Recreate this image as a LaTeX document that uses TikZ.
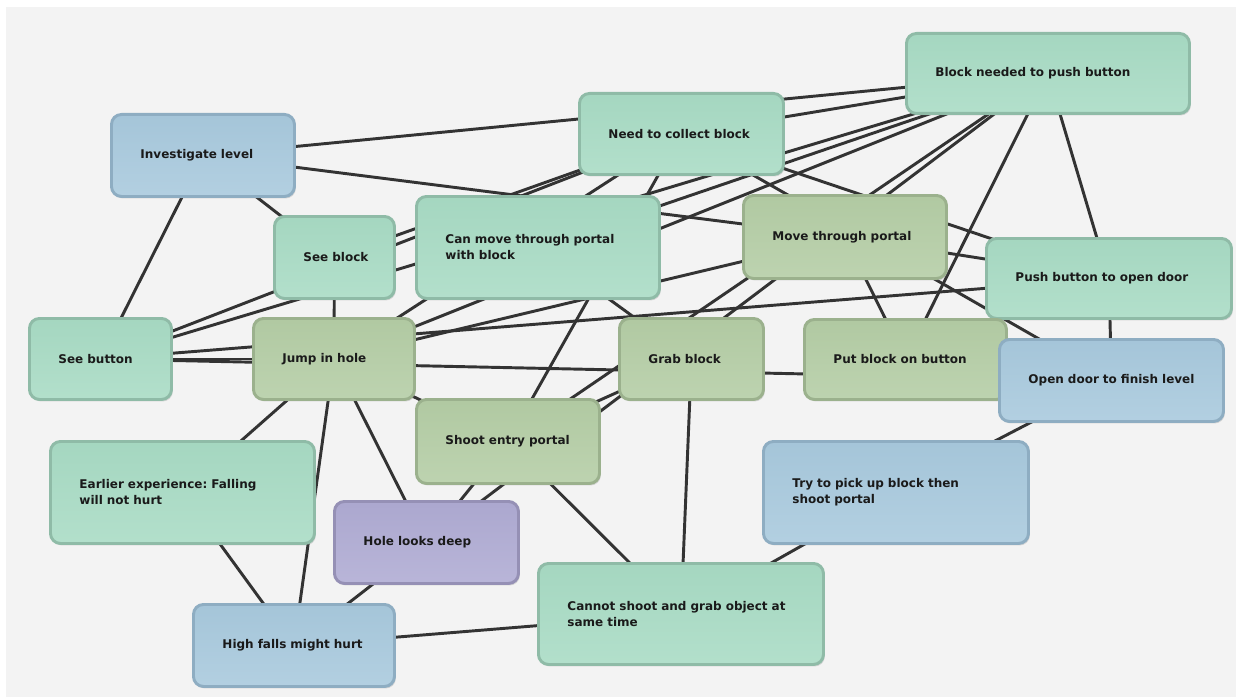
\documentclass[tikz,border=0pt]{standalone}
\usepackage{fontspec}
\setmainfont{DejaVu Sans}
\usetikzlibrary{shadows}
\pgfdeclarelayer{paper}
\pgfdeclarelayer{edges}
\pgfsetlayers{paper,edges,main}
\definecolor{tealF}{HTML}{A8DBC4}
\definecolor{tealD}{HTML}{8FBBA7}
\definecolor{oliveF}{HTML}{B4CDA5}
\definecolor{oliveD}{HTML}{9BB18D}
\definecolor{blueF}{HTML}{A8C9DD}
\definecolor{blueD}{HTML}{8EADC2}
\definecolor{purpF}{HTML}{AFABD3}
\definecolor{purpD}{HTML}{9590B5}
\definecolor{edgeC}{HTML}{333333}
\definecolor{paperC}{HTML}{F3F3F3}
\definecolor{textC}{HTML}{1A1A1A}
\frenchspacing
\begin{document}
\begin{tikzpicture}[x=0.75pt,y=-0.75pt,
  box/.style={rounded corners=7.5pt, line width=2.2pt, anchor=north west,
    inner xsep=21.75pt, inner ysep=0pt, align=left, text=textC,
    font=\bfseries\fontsize{9}{12}\selectfont,
    drop shadow={shadow xshift=1pt, shadow yshift=-1.5pt, opacity=0.25}},
  tealbox/.style={box, top color=tealF!98!black, bottom color=tealF!88!white, draw=tealD},
  olivebox/.style={box, top color=oliveF!98!black, bottom color=oliveF!88!white, draw=oliveD},
  bluebox/.style={box, top color=blueF!98!black, bottom color=blueF!88!white, draw=blueD},
  purpbox/.style={box, top color=purpF!98!black, bottom color=purpF!88!white, draw=purpD},
  link/.style={draw=edgeC, line width=2.2pt}
]
\useasboundingbox (0,0) rectangle (1239,699);
\begin{pgfonlayer}{paper}
\fill[white] (0,0) rectangle (1239,699);
\fill[paperC] (6,7) rectangle (1236,697);
\end{pgfonlayer}

% nodes
\node[bluebox, minimum width=137.25pt, minimum height=61.5pt, text width=93.75pt] (IL) at (110,113) {\mbox{Investigate level}};
\node[tealbox, minimum width=153pt, minimum height=60.75pt, text width=109.5pt] (NCB) at (578,92) {\mbox{Need to collect block}};
\node[tealbox, minimum width=212.25pt, minimum height=60pt, text width=168.75pt] (BNB) at (905,32) {\mbox{Block needed to push button}};
\node[tealbox, minimum width=90pt, minimum height=61.5pt, text width=46.5pt] (SB) at (273,215) {\mbox{See block}};
\node[tealbox, minimum width=182.25pt, minimum height=76.5pt, text width=138.75pt] (CMP) at (415,195) {\mbox{Can move through portal}\\\mbox{with block}};
\node[olivebox, minimum width=152.25pt, minimum height=62.25pt, text width=108.75pt] (MTP) at (742,194) {\mbox{Move through portal}};
\node[tealbox, minimum width=183.75pt, minimum height=60pt, text width=140.25pt] (PBD) at (985,237) {\mbox{Push button to open door}};
\node[tealbox, minimum width=106.5pt, minimum height=60.75pt, text width=63pt] (SBt) at (28,317) {\mbox{See button}};
\node[olivebox, minimum width=120.75pt, minimum height=60.75pt, text width=77.25pt] (JH) at (252,317) {\mbox{Jump in hole}};
\node[olivebox, minimum width=108pt, minimum height=60.75pt, text width=64.5pt] (GB) at (618,317) {\mbox{Grab block}};
\node[olivebox, minimum width=151.5pt, minimum height=60pt, text width=108pt] (PBB) at (803,318) {\mbox{Put block on button}};
\node[bluebox, minimum width=168pt, minimum height=61.5pt, text width=124.5pt] (OD) at (998,338) {\mbox{Open door to finish level}};
\node[olivebox, minimum width=137.25pt, minimum height=63pt, text width=93.75pt] (SEP) at (415,398) {\mbox{Shoot entry portal}};
\node[tealbox, minimum width=198pt, minimum height=76.5pt, text width=154.5pt] (EE) at (49,440) {\mbox{Earlier experience: Falling}\\\mbox{will not hurt}};
\node[purpbox, minimum width=138pt, minimum height=61.5pt, text width=94.5pt] (HLD) at (333,500) {\mbox{Hole looks deep}};
\node[bluebox, minimum width=198.75pt, minimum height=76.5pt, text width=155.25pt] (TPB) at (762,440) {\mbox{Try to pick up block then}\\\mbox{shoot portal}};
\node[tealbox, minimum width=213.75pt, minimum height=75.75pt, text width=170.25pt] (CSG) at (537,562) {\mbox{Cannot shoot and grab object at}\\\mbox{same time}};
\node[bluebox, minimum width=150.75pt, minimum height=61.5pt, text width=107.25pt] (HFH) at (192,603) {\mbox{High falls might hurt}};

% connectors
\begin{pgfonlayer}{edges}
\draw[link] (IL.center) -- (SBt.center);
\draw[link] (IL.center) -- (SB.center);
\draw[link] (IL.center) -- (BNB.center);
\draw[link] (IL.center) -- (MTP.center);
\draw[link] (SB.center) -- (JH.center);
\draw[link] (SB.center) -- (NCB.center);
\draw[link] (SBt.center) -- (NCB.center);
\draw[link] (SBt.center) -- (BNB.center);
\draw[link] (SBt.center) -- (PBD.center);
\draw[link] (SBt.center) -- (JH.center);
\draw[link] (SBt.center) -- (OD.center);
\draw[link] (JH.center) -- (NCB.center);
\draw[link] (JH.center) -- (BNB.center);
\draw[link] (JH.center) -- (MTP.center);
\draw[link] (JH.center) -- (EE.center);
\draw[link] (JH.center) -- (HFH.center);
\draw[link] (JH.center) -- (HLD.center);
\draw[link] (JH.center) -- (SEP.center);
\draw[link] (NCB.center) -- (BNB.center);
\draw[link] (NCB.center) -- (PBD.center);
\draw[link] (NCB.center) -- (OD.center);
\draw[link] (NCB.center) -- (SEP.center);
\draw[link] (CMP.center) -- (BNB.center);
\draw[link] (CMP.center) -- (GB.center);
\draw[link] (BNB.center) -- (SEP.center);
\draw[link] (BNB.center) -- (HLD.center);
\draw[link] (BNB.center) -- (PBB.center);
\draw[link] (BNB.center) -- (PBD.center);
\draw[link] (MTP.center) -- (PBD.center);
\draw[link] (MTP.center) -- (PBB.center);
\draw[link] (PBD.center) -- (OD.center);
\draw[link] (OD.center) -- (TPB.center);
\draw[link] (TPB.center) -- (CSG.center);
\draw[link] (GB.center) -- (CSG.center);
\draw[link] (SEP.center) -- (GB.center);
\draw[link] (SEP.center) -- (CSG.center);
\draw[link] (SEP.center) -- (HLD.center);
\draw[link] (EE.center) -- (HFH.center);
\draw[link] (HLD.center) -- (HFH.center);
\draw[link] (HFH.center) -- (CSG.center);
\end{pgfonlayer}
\end{tikzpicture}
\end{document}
